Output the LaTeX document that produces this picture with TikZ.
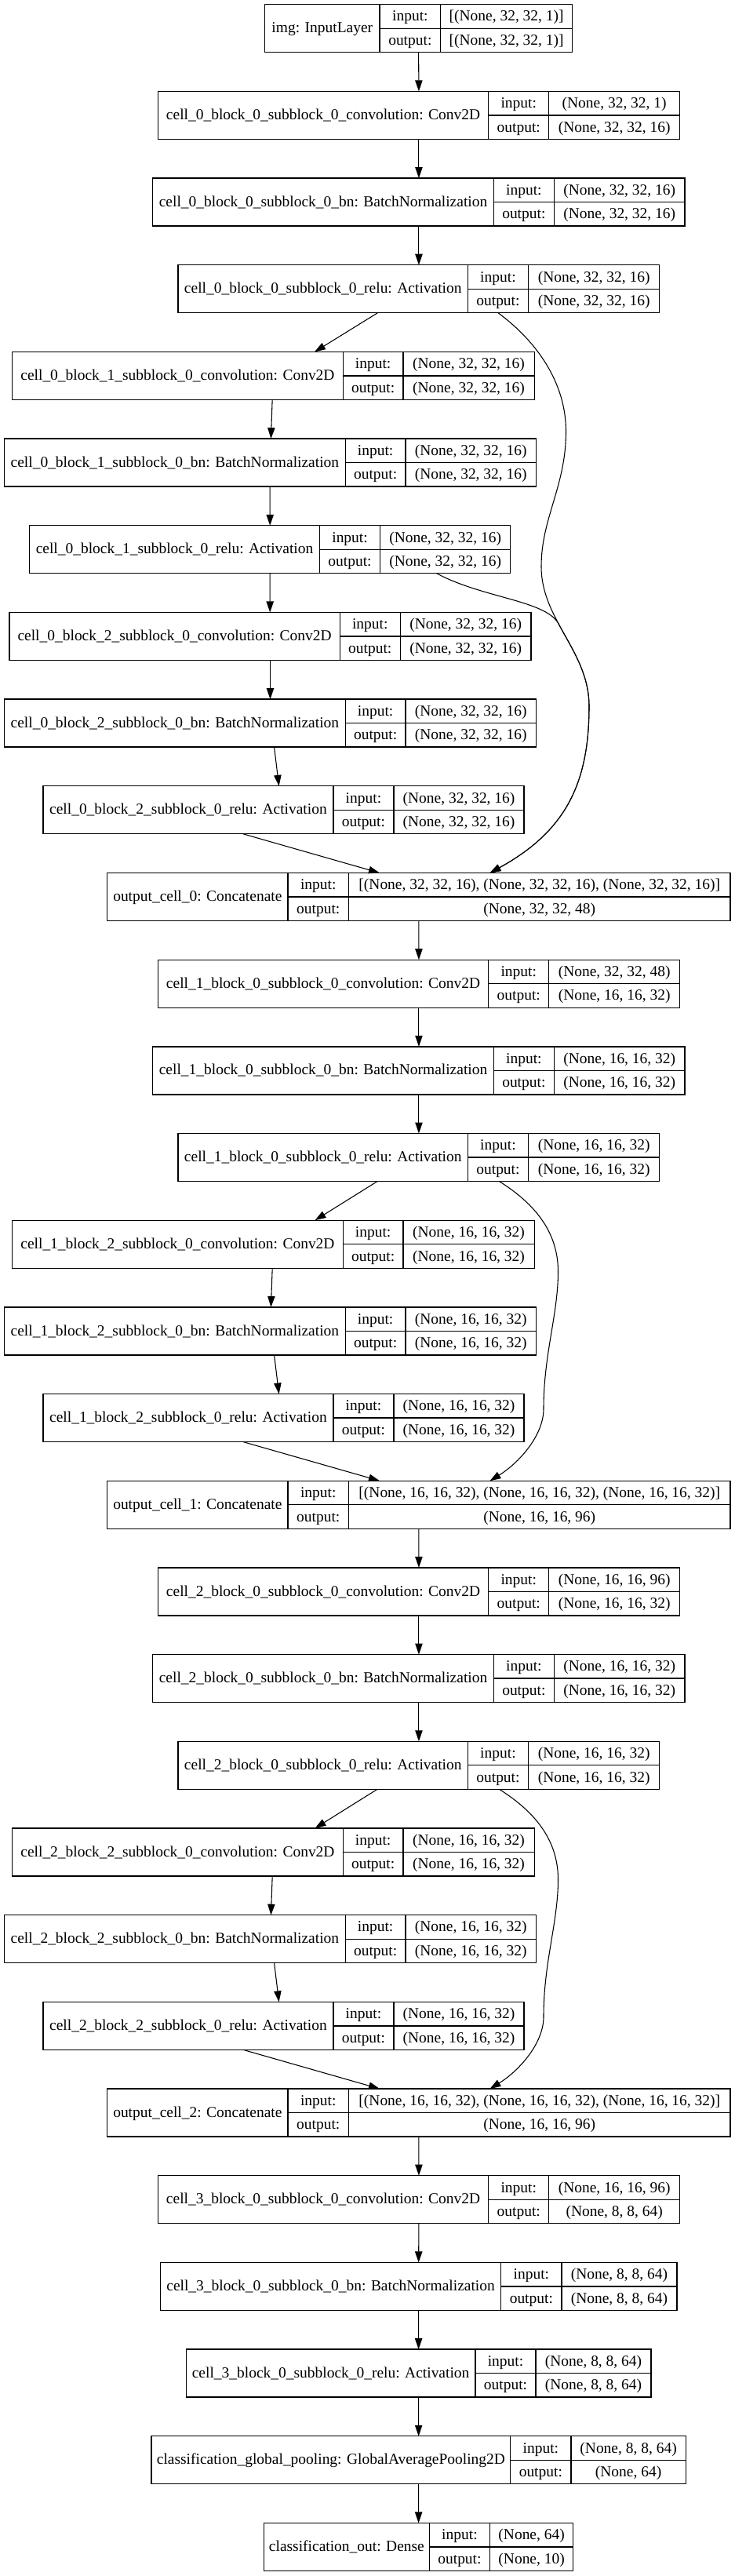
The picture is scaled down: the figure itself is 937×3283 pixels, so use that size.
\documentclass[tikz,border=0pt]{standalone}
\usepackage{fontspec}
\setmainfont{Liberation Serif}
\usetikzlibrary{arrows.meta,calc}
\tikzset{
  box/.style={draw=black, line width=1pt, inner sep=0pt, outer sep=0pt, rectangle},
  divider/.style={draw=black, line width=1pt},
  txt/.style={anchor=base, inner sep=0pt, outer sep=0pt, font=\fontsize{14.6}{17}\selectfont},
  edge/.style={draw=black, line width=0.8pt, -{Triangle[length=10.5pt,width=7pt]}},
}
% #1 name, #2 row, #3 left, #4 divider 1, #5 divider 2, #6 right, #7 label, #8 input, #9 output
\newcommand\nnlayer[9]{%
  \pgfmathsetmacro\Lyt{5.7+110.68*#2}%
  \pgfmathsetmacro\Lym{\Lyt+30.5}%
  \pgfmathsetmacro\Lyb{\Lyt+61}%
  \pgfmathsetmacro\Lxc{(#3+#6)/2}%
  \pgfmathsetmacro\Lwid{(#6-#3)*0.75}%
  \node[box, minimum width=\Lwid pt, minimum height=45.75pt] (#1) at (\Lxc,\Lym) {};
  \draw[divider] (#4,\Lyt) -- (#4,\Lyb) (#5,\Lyt) -- (#5,\Lyb) (#4,\Lym) -- (#6,\Lym);
  \node[txt] (#1-l) at ({(#3+#4)/2},{\Lym+5.6}) {#7};
  \node[txt] (#1-i) at ({(#4+#5)/2},{\Lyt+21.3}) {input:};
  \node[txt] (#1-o) at ({(#4+#5)/2},{\Lym+21.3}) {output:};
  \node[txt] (#1-iv) at ({(#5+#6)/2},{\Lyt+21.3}) {#8};
  \node[txt] (#1-ov) at ({(#5+#6)/2},{\Lym+21.3}) {#9};
}
\begin{document}
\begin{tikzpicture}[x=0.75pt,y=-0.75pt]
\fill[white] (0,0) rectangle (937,3283);
\useasboundingbox (0,0) rectangle (937,3283);

% ---------- cell 0 ----------
\nnlayer{img}{0}{337.6}{484.0}{561.7}{729.6}{img: InputLayer}{[(None, 32, 32, 1)]}{[(None, 32, 32, 1)]}
\nnlayer{c00}{1}{201.4}{622.7}{699.8}{866.5}{cell\_0\_block\_0\_subblock\_0\_convolution: Conv2D}{(None, 32, 32, 1)}{(None, 32, 32, 16)}
\nnlayer{b00}{2}{194.8}{629.3}{706.4}{873.1}{cell\_0\_block\_0\_subblock\_0\_bn: BatchNormalization}{(None, 32, 32, 16)}{(None, 32, 32, 16)}
\nnlayer{r00}{3}{227.1}{596.4}{673.5}{840.8}{cell\_0\_block\_0\_subblock\_0\_relu: Activation}{(None, 32, 32, 16)}{(None, 32, 32, 16)}
\nnlayer{c01}{4}{15.5}{437.4}{513.9}{681.2}{cell\_0\_block\_1\_subblock\_0\_convolution: Conv2D}{(None, 32, 32, 16)}{(None, 32, 32, 16)}
\nnlayer{b01}{5}{5.4}{440.4}{516.9}{683.6}{cell\_0\_block\_1\_subblock\_0\_bn: BatchNormalization}{(None, 32, 32, 16)}{(None, 32, 32, 16)}
\nnlayer{r01}{6}{37.6}{407.5}{484.6}{650.8}{cell\_0\_block\_1\_subblock\_0\_relu: Activation}{(None, 32, 32, 16)}{(None, 32, 32, 16)}
\nnlayer{c02}{7}{12}{433.2}{510.3}{677}{cell\_0\_block\_2\_subblock\_0\_convolution: Conv2D}{(None, 32, 32, 16)}{(None, 32, 32, 16)}
\nnlayer{b02}{8}{5.4}{440.4}{516.9}{683.6}{cell\_0\_block\_2\_subblock\_0\_bn: BatchNormalization}{(None, 32, 32, 16)}{(None, 32, 32, 16)}
\nnlayer{r02}{9}{55}{424.9}{502}{668.1}{cell\_0\_block\_2\_subblock\_0\_relu: Activation}{(None, 32, 32, 16)}{(None, 32, 32, 16)}
\nnlayer{o0}{10}{136.8}{366.9}{444.6}{931}{output\_cell\_0: Concatenate}{[(None, 32, 32, 16), (None, 32, 32, 16), (None, 32, 32, 16)]}{(None, 32, 32, 48)}

% ---------- cell 1 ----------
\nnlayer{c10}{11}{201.4}{622.7}{699.8}{866.5}{cell\_1\_block\_0\_subblock\_0\_convolution: Conv2D}{(None, 32, 32, 48)}{(None, 16, 16, 32)}
\nnlayer{b10}{12}{194.8}{629.3}{706.4}{873.1}{cell\_1\_block\_0\_subblock\_0\_bn: BatchNormalization}{(None, 16, 16, 32)}{(None, 16, 16, 32)}
\nnlayer{r10}{13}{227.1}{596.4}{673.5}{840.8}{cell\_1\_block\_0\_subblock\_0\_relu: Activation}{(None, 16, 16, 32)}{(None, 16, 16, 32)}
\nnlayer{c12}{14}{15.5}{437.4}{513.9}{681.2}{cell\_1\_block\_2\_subblock\_0\_convolution: Conv2D}{(None, 16, 16, 32)}{(None, 16, 16, 32)}
\nnlayer{b12}{15}{5.4}{440.4}{516.9}{683.6}{cell\_1\_block\_2\_subblock\_0\_bn: BatchNormalization}{(None, 16, 16, 32)}{(None, 16, 16, 32)}
\nnlayer{r12}{16}{55}{424.9}{502}{668.1}{cell\_1\_block\_2\_subblock\_0\_relu: Activation}{(None, 16, 16, 32)}{(None, 16, 16, 32)}
\nnlayer{o1}{17}{136.8}{366.9}{444.6}{931}{output\_cell\_1: Concatenate}{[(None, 16, 16, 32), (None, 16, 16, 32), (None, 16, 16, 32)]}{(None, 16, 16, 96)}

% ---------- cell 2 ----------
\nnlayer{c20}{18}{201.4}{622.7}{699.8}{866.5}{cell\_2\_block\_0\_subblock\_0\_convolution: Conv2D}{(None, 16, 16, 96)}{(None, 16, 16, 32)}
\nnlayer{b20}{19}{194.8}{629.3}{706.4}{873.1}{cell\_2\_block\_0\_subblock\_0\_bn: BatchNormalization}{(None, 16, 16, 32)}{(None, 16, 16, 32)}
\nnlayer{r20}{20}{227.1}{596.4}{673.5}{840.8}{cell\_2\_block\_0\_subblock\_0\_relu: Activation}{(None, 16, 16, 32)}{(None, 16, 16, 32)}
\nnlayer{c22}{21}{15.5}{437.4}{513.9}{681.2}{cell\_2\_block\_2\_subblock\_0\_convolution: Conv2D}{(None, 16, 16, 32)}{(None, 16, 16, 32)}
\nnlayer{b22}{22}{5.4}{440.4}{516.9}{683.6}{cell\_2\_block\_2\_subblock\_0\_bn: BatchNormalization}{(None, 16, 16, 32)}{(None, 16, 16, 32)}
\nnlayer{r22}{23}{55}{424.9}{502}{668.1}{cell\_2\_block\_2\_subblock\_0\_relu: Activation}{(None, 16, 16, 32)}{(None, 16, 16, 32)}
\nnlayer{o2}{24}{136.8}{366.9}{444.6}{931}{output\_cell\_2: Concatenate}{[(None, 16, 16, 32), (None, 16, 16, 32), (None, 16, 16, 32)]}{(None, 16, 16, 96)}

% ---------- cell 3 and head ----------
\nnlayer{c30}{25}{201.4}{622.7}{699.8}{866.5}{cell\_3\_block\_0\_subblock\_0\_convolution: Conv2D}{(None, 16, 16, 96)}{(None, 8, 8, 64)}
\nnlayer{b30}{26}{204.4}{638.8}{715.9}{862.9}{cell\_3\_block\_0\_subblock\_0\_bn: BatchNormalization}{(None, 8, 8, 64)}{(None, 8, 8, 64)}
\nnlayer{r30}{27}{237.2}{606}{683}{830}{cell\_3\_block\_0\_subblock\_0\_relu: Activation}{(None, 8, 8, 64)}{(None, 8, 8, 64)}
\nnlayer{gp}{28}{193}{650.8}{727.9}{874.3}{classification\_global\_pooling: GlobalAveragePooling2D}{(None, 8, 8, 64)}{(None, 64)}
\nnlayer{co}{29}{336.4}{547.4}{624.5}{730.8}{classification\_out: Dense}{(None, 64)}{(None, 10)}

% ---------- edges: cell 0 ----------
\draw[edge] (img.south) -- (c00.north);
\draw[edge] (c00.south) -- (b00.north);
\draw[edge] (b00.south) -- (r00.north);
\draw[edge] ($(r00.south)+(-52.5,0)$) -- ($(c01.north)+(52.7,0)$);
\draw[edge] ($(c01.south)+(-1.2,0)$) -- ($(b01.north)+(0.9,0)$);
\draw[edge] ($(b01.south)+(-0.3,0)$) -- (r01.north);
\draw[edge] (r01.south) -- ($(c02.north)+(-0.3,0)$);
\draw[edge] (c02.south) -- (b02.north);
\draw[edge] ($(b02.south)+(5.1,0)$) -- ($(r02.north)+(-5.95,0)$);
\draw[edge] ($(r02.south)+(-51.55,0)$) -- ($(o0.north)+(-49.9,0)$);
\draw[edge] ($(r00.south)+(101,0)$) .. controls (675,428) and (721.5,480) .. (721.5,550)
  .. controls (721.5,620) and (690,660) .. (690,722)
  .. controls (690,790) and (751,830) .. (751,900)
  .. controls (751,1000) and (720,1060) .. ($(o0.north)+(90.6,0)$);
\draw[edge] ($(r01.south)+(212.5,0)$) .. controls (615,762) and (694,765) .. (711.5,794)
  .. controls (729,826.8) and (751,858) .. (751,900)
  .. controls (751,1000) and (720,1060) .. ($(o0.north)+(90.6,0)$);

% ---------- edges: cell 1 ----------
\draw[edge] (o0.south) -- (c10.north);
\draw[edge] (c10.south) -- (b10.north);
\draw[edge] (b10.south) -- (r10.north);
\draw[edge] ($(r10.south)+(-52.9,0)$) -- ($(c12.north)+(53.2,0)$);
\draw[edge] ($(c12.south)+(-1.15,0)$) -- ($(b12.north)+(0.9,0)$);
\draw[edge] ($(b12.south)+(5.1,0)$) -- ($(r12.north)+(-5.95,0)$);
\draw[edge] ($(r12.south)+(-51.55,0)$) -- ($(o1.north)+(-49.9,0)$);
\draw[edge] ($(r10.south)+(102.5,0)$) .. controls (676,1530.5) and (711.5,1565.5) .. (711.5,1620.5)
  .. controls (711.5,1675.5) and (693,1725.5) .. (693,1795.5)
  .. controls (693,1830.5) and (660,1865.5) .. ($(o1.north)+(90.6,0)$);

% ---------- edges: cell 2 ----------
\draw[edge] (o1.south) -- (c20.north);
\draw[edge] (c20.south) -- (b20.north);
\draw[edge] (b20.south) -- (r20.north);
\draw[edge] ($(r20.south)+(-52.9,0)$) -- ($(c22.north)+(53.2,0)$);
\draw[edge] ($(c22.south)+(-1.15,0)$) -- ($(b22.north)+(0.9,0)$);
\draw[edge] ($(b22.south)+(5.1,0)$) -- ($(r22.north)+(-5.95,0)$);
\draw[edge] ($(r22.south)+(-51.55,0)$) -- ($(o2.north)+(-49.9,0)$);
\draw[edge] ($(r20.south)+(102.5,0)$) .. controls (676,2305.3) and (711.5,2340.3) .. (711.5,2395.3)
  .. controls (711.5,2450.3) and (693,2500.3) .. (693,2570.3)
  .. controls (693,2605.3) and (660,2640.3) .. ($(o2.north)+(90.6,0)$);

% ---------- edges: cell 3 and head ----------
\draw[edge] (o2.south) -- (c30.north);
\draw[edge] (c30.south) -- (b30.north);
\draw[edge] (b30.south) -- (r30.north);
\draw[edge] (r30.south) -- (gp.north);
\draw[edge] (gp.south) -- (co.north);
\end{tikzpicture}
\end{document}
